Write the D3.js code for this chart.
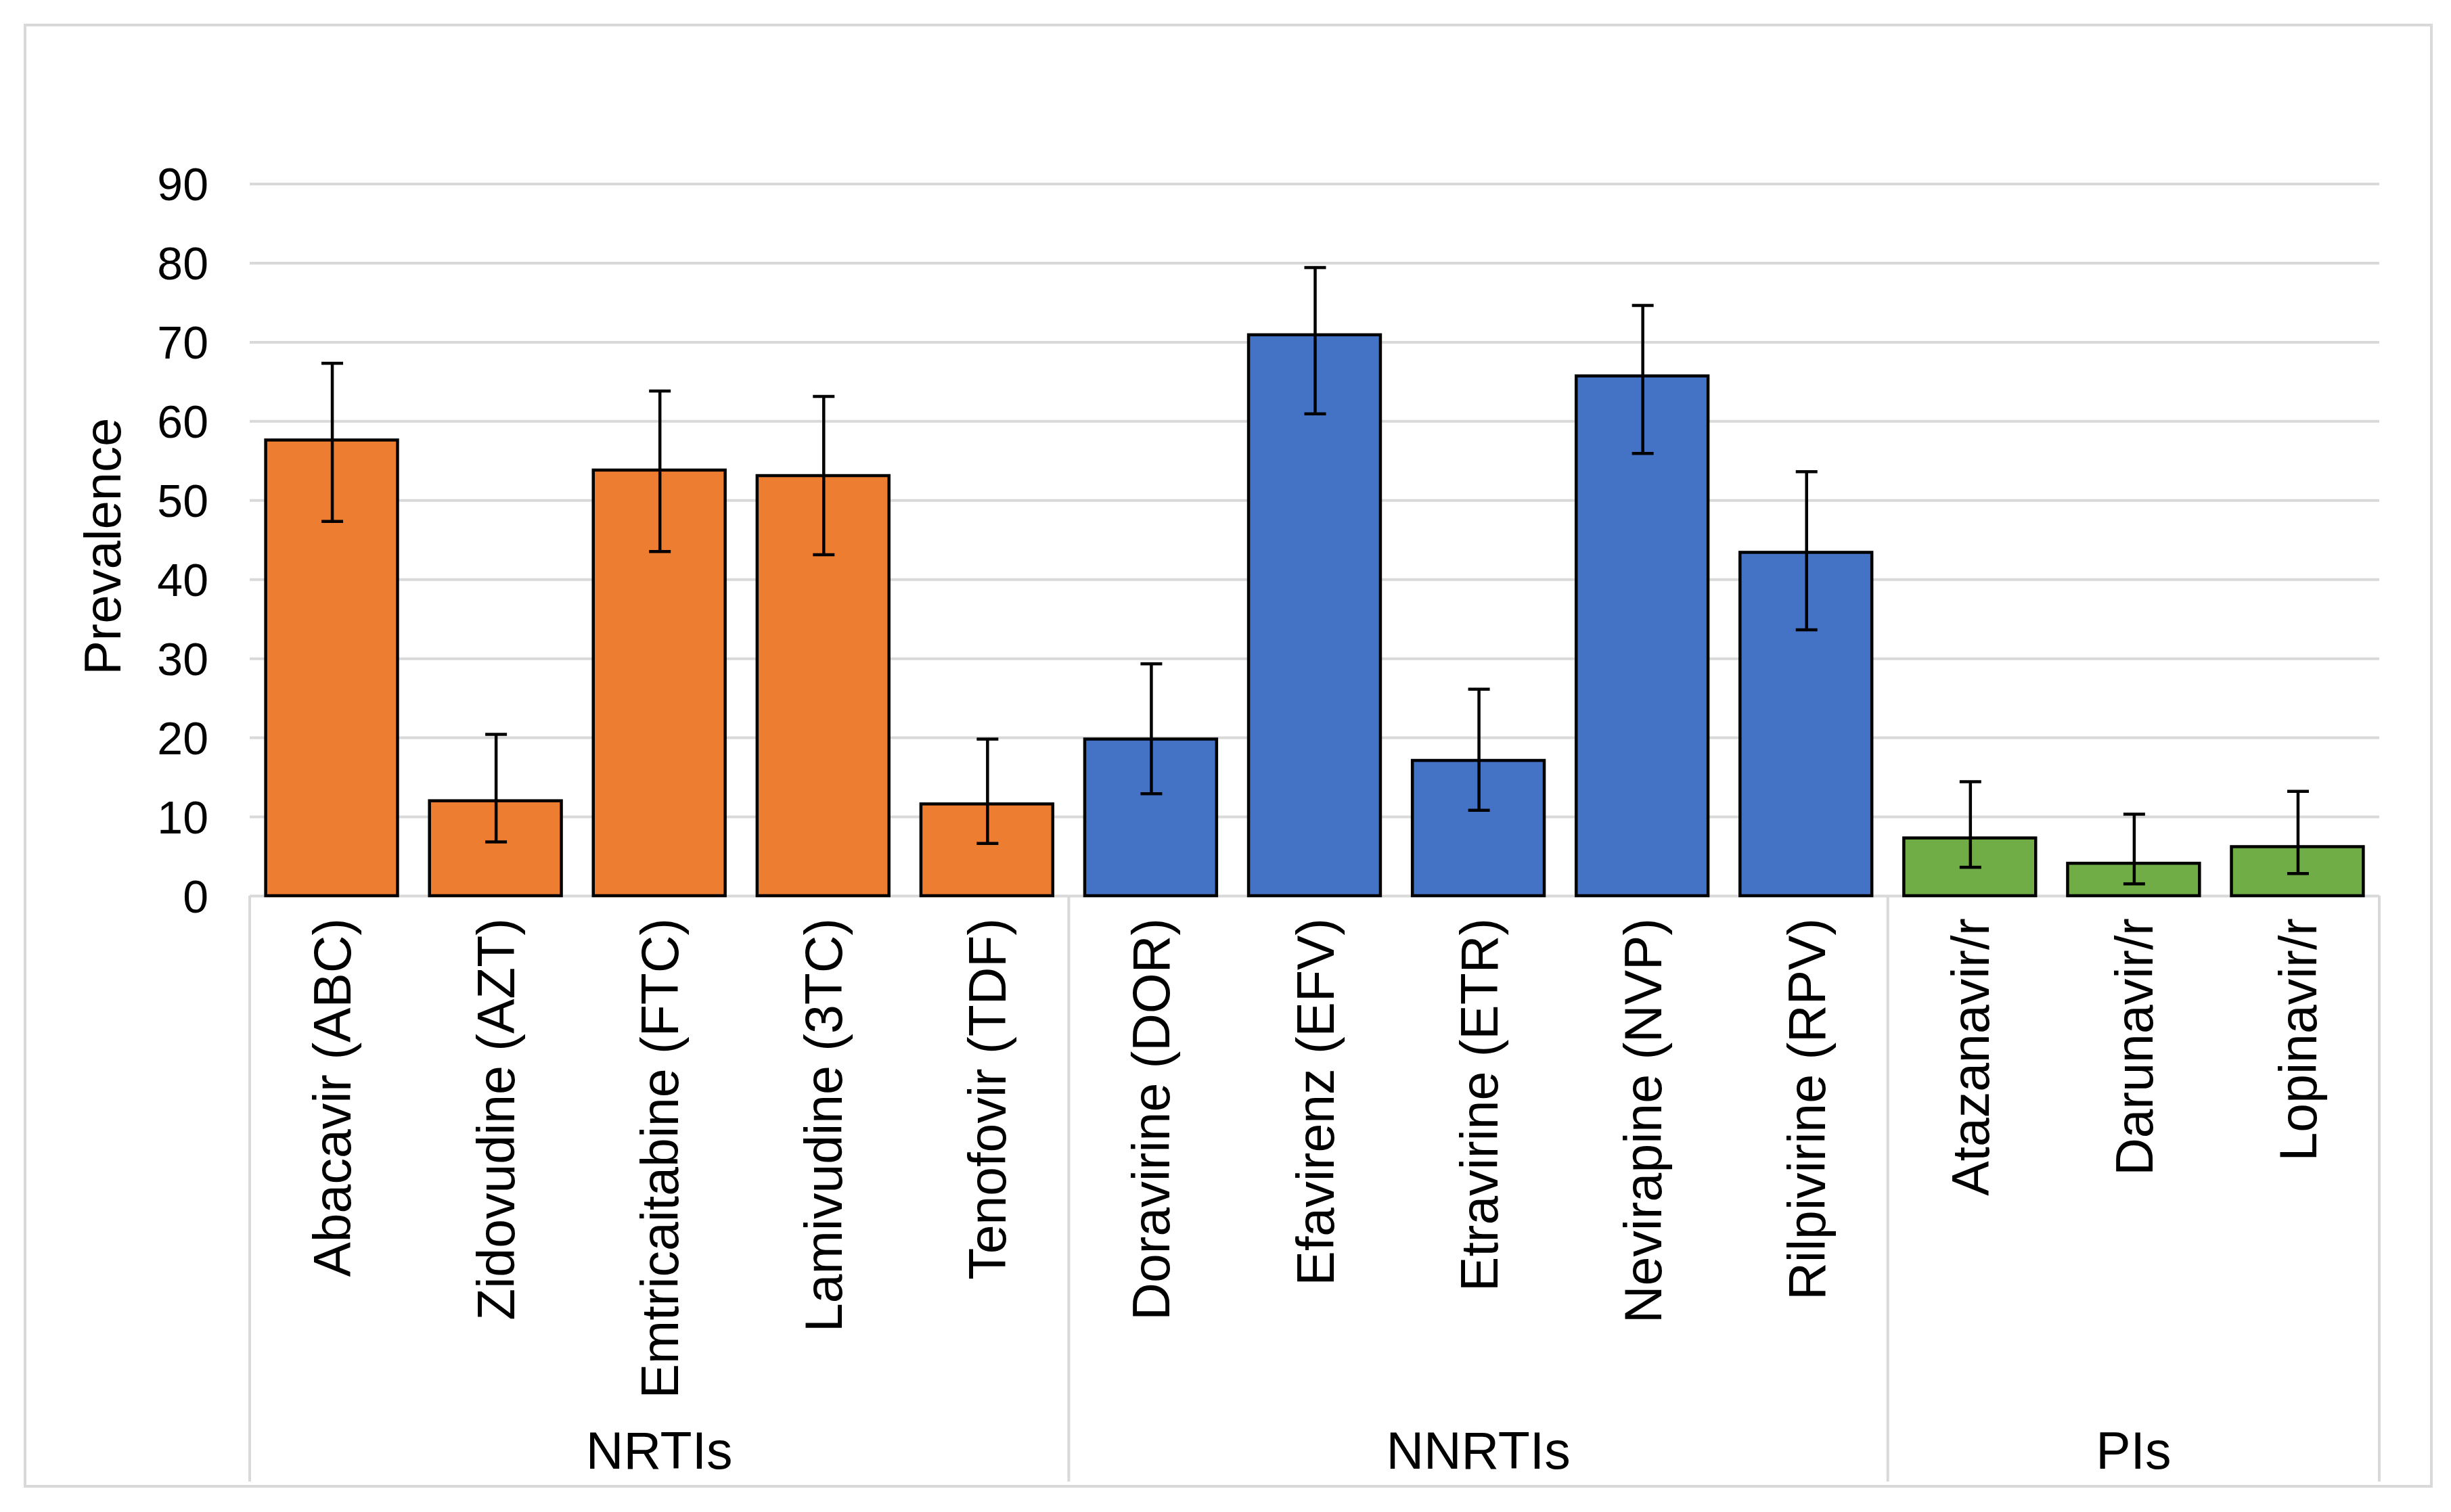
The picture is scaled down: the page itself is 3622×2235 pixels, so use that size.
<!DOCTYPE html>
<html>
<head>
<meta charset="utf-8">
<script src="https://cdn.jsdelivr.net/npm/d3@7/dist/d3.min.js"></script>
<style>
  html, body { margin: 0; padding: 0; background: #ffffff; }
  svg { display: block; }
  text { font-family: "Liberation Sans", Arial, sans-serif; fill: #000; }
</style>
</head>
<body>
<svg id="chart" width="3622" height="2235"></svg>
<script>
// ---- data ----
const categories = [
  "Abacavir (ABC)", "Zidovudine (AZT)", "Emtricaitabine (FTC)", "Lamivudine (3TC)", "Tenofovir (TDF)",
  "Doravirine (DOR)", "Efavirenz (EFV)", "Etravirine (ETR)", "Nevirapine (NVP)", "Rilpivirine (RPV)",
  "Atazanavir/r", "Darunavir/r", "Lopinavir/r"
];
const groupOf = ["NRTIs","NRTIs","NRTIs","NRTIs","NRTIs",
  "NNRTIs","NNRTIs","NNRTIs","NNRTIs","NNRTIs",
  "PIs","PIs","PIs"];
const groups = ["NRTIs", "NNRTIs", "PIs"];
const prevalence = [57.6, 12.0, 53.8, 53.1, 11.6, 19.8, 70.9, 17.1, 65.7, 43.4, 7.3, 4.1, 6.2];
const ciLow      = [47.3, 6.8, 43.5, 43.1, 6.6, 12.9, 60.9, 10.8, 55.9, 33.6, 3.6, 1.5, 2.8];
const ciHigh     = [67.3, 20.4, 63.8, 63.1, 19.8, 29.3, 79.4, 26.1, 74.6, 53.6, 14.4, 10.3, 13.2];
const yTicks = [0, 10, 20, 30, 40, 50, 60, 70, 80, 90];
const yTitle = "Prevalence";
const groupColors = { "NRTIs": "#ED7D31", "NNRTIs": "#4472C4", "PIs": "#70AD47" };

// ---- layout ----
const W = 3622, H = 2235;
const plotL = 369, plotR = 3516, plotT = 271.5, plotB = 1324;
const catBottom = 2190;

const svg = d3.select("#chart");
svg.append("rect").attr("width", W).attr("height", H).attr("fill", "#fff");

// outer border
svg.append("rect")
  .attr("x", 37).attr("y", 37).attr("width", 3593 - 37).attr("height", 2197 - 37)
  .attr("fill", "none").attr("stroke", "#d9d9d9").attr("stroke-width", 4);

const x = d3.scaleBand().domain(categories).range([plotL, plotR])
  .paddingInner(0.195).paddingOuter(0.0975);
const step = x.step();
const y = d3.scaleLinear().domain([0, 90]).range([plotB, plotT]);

// gridlines + y tick labels
const yAxis = d3.axisLeft(y).tickValues(yTicks).tickSize(-(plotR - plotL)).tickPadding(61);
const gy = svg.append("g").attr("transform", `translate(${plotL},0)`).call(yAxis);
gy.select(".domain").remove();
gy.selectAll(".tick line").attr("stroke", "#d9d9d9").attr("stroke-width", 4);
gy.selectAll(".tick text")
  .style("font-family", '"Liberation Sans", Arial, sans-serif')
  .attr("font-size", 68).attr("fill", "#000").attr("dy", "0.36em");

// y title
svg.append("text")
  .attr("transform", `translate(178, ${(plotT + plotB) / 2 + 10}) rotate(-90)`)
  .attr("text-anchor", "middle")
  .attr("font-size", 76)
  .text(yTitle);

// category area dividers
const groupStart = {}, groupEnd = {};
categories.forEach((c, i) => {
  const g = groupOf[i];
  const s = x(c) - x.step() * x.paddingInner() / 2;
  const e = s + step;
  if (!(g in groupStart)) groupStart[g] = s;
  groupEnd[g] = e;
});
const dividers = [groupStart[groups[0]]].concat(groups.map(g => groupEnd[g]));
svg.append("g").selectAll("line").data(dividers).join("line")
  .attr("x1", d => d).attr("x2", d => d)
  .attr("y1", plotB).attr("y2", catBottom)
  .attr("stroke", "#d9d9d9").attr("stroke-width", 4);

// bars
svg.append("g").selectAll("rect").data(categories).join("rect")
  .attr("x", d => x(d))
  .attr("y", (d, i) => y(prevalence[i]))
  .attr("width", x.bandwidth())
  .attr("height", (d, i) => y(0) - y(prevalence[i]))
  .attr("fill", (d, i) => groupColors[groupOf[i]])
  .attr("stroke", "#000").attr("stroke-width", 4.5);

// error bars
const capW = 32;
const eg = svg.append("g").attr("stroke", "#000").attr("stroke-width", 4.5);
categories.forEach((c, i) => {
  const cx = x(c) + x.bandwidth() / 2 + 1;
  eg.append("line").attr("x1", cx).attr("x2", cx).attr("y1", y(ciLow[i])).attr("y2", y(ciHigh[i]));
  eg.append("line").attr("x1", cx - capW / 2).attr("x2", cx + capW / 2).attr("y1", y(ciHigh[i])).attr("y2", y(ciHigh[i]));
  eg.append("line").attr("x1", cx - capW / 2).attr("x2", cx + capW / 2).attr("y1", y(ciLow[i])).attr("y2", y(ciLow[i]));
});

// category labels (rotated)
svg.append("g").selectAll("text").data(categories).join("text")
  .attr("transform", d => `translate(${x(d) + x.bandwidth() / 2 + 28}, 1357) rotate(-90)`)
  .attr("text-anchor", "end")
  .attr("font-size", 77)
  .text(d => d);

// group labels
svg.append("g").selectAll("text").data(groups).join("text")
  .attr("x", g => (groupStart[g] + groupEnd[g]) / 2)
  .attr("y", 2171)
  .attr("text-anchor", "middle")
  .attr("font-size", 77)
  .text(g => g);
</script>
</body>
</html>
